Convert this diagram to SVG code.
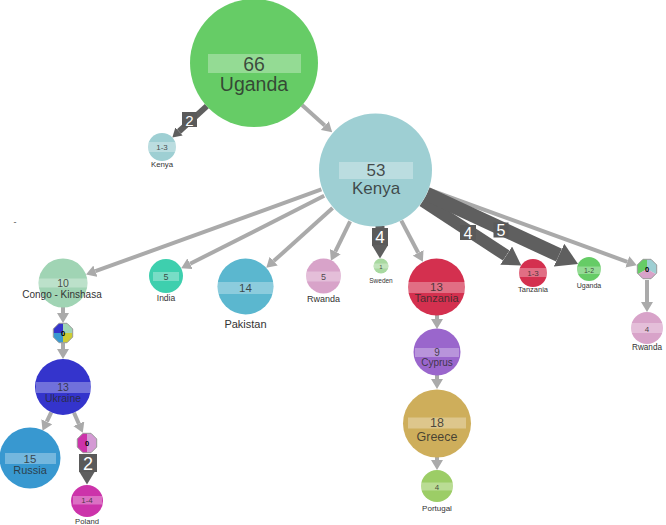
<svg xmlns="http://www.w3.org/2000/svg" width="666" height="525" viewBox="0 0 666 525">
<defs>
<style>
text{font-family:"Liberation Sans",Arial,sans-serif;text-anchor:middle}
.band{fill:#fff;fill-opacity:.3}
.in{fill:#2a2a2a;fill-opacity:.82}
.out{fill:#333}
.e{fill:none;stroke:#aaa;stroke-width:4;marker-end:url(#ag)}
.d{fill:none;stroke:#5f5f5f;marker-end:url(#ad)}
.lb{fill:#5a5a5a}
.lt{fill:#fff}
.oct{fill:none;stroke:#999;stroke-width:1}
.z{font-size:7.5px;font-weight:bold;fill:#000}
</style>
<marker id="ag" viewBox="0 0 10 10" refX="0" refY="5" markerWidth="2.5" markerHeight="3" orient="auto" markerUnits="strokeWidth" preserveAspectRatio="none"><path d="M0,0L10,5L0,10z" fill="#aaa"/></marker>
<marker id="ad" viewBox="0 0 10 10" refX="0" refY="5" markerWidth="1.5" markerHeight="1.8" orient="auto" markerUnits="strokeWidth" preserveAspectRatio="none"><path d="M0,0L10,5L0,10z" fill="#5f5f5f"/></marker>
<clipPath id="octc"><polygon points="9.7,4.02 4.02,9.7 -4.02,9.7 -9.7,4.02 -9.7,-4.02 -4.02,-9.7 4.02,-9.7 9.7,-4.02"/></clipPath>
<polygon id="octp" points="9.7,4.02 4.02,9.7 -4.02,9.7 -9.7,4.02 -9.7,-4.02 -4.02,-9.7 4.02,-9.7 9.7,-4.02"/>
</defs>
<rect width="666" height="525" fill="#fff"/>
<text x="15" y="225" style="font-size:9px;fill:#555">-</text>

<g id="connectors">
<line class="e" x1="302" y1="105" x2="324.8" y2="125.6"/>
<line class="e" x1="321.4" y1="189.4" x2="95.4" y2="271.2"/>
<line class="e" x1="324.2" y1="195.8" x2="190.1" y2="263.8"/>
<line class="e" x1="332.6" y1="208.1" x2="273.7" y2="261.1"/>
<line class="e" x1="350.1" y1="221.3" x2="335.3" y2="251.7"/>
<line class="e" x1="401.3" y1="220.6" x2="418.2" y2="252.8"/>
<line class="e" x1="428.6" y1="189.5" x2="627.3" y2="261.8"/>
<line class="e" x1="647" y1="280" x2="647" y2="302"/>
<line class="e" x1="63" y1="307" x2="63" y2="313"/>
<line class="e" x1="63" y1="343" x2="63" y2="349"/>
<line class="e" x1="51.2" y1="412.4" x2="46.8" y2="421.7"/>
<line class="e" x1="74" y1="412.7" x2="78.8" y2="423.7"/>
<line class="e" x1="437" y1="315" x2="437" y2="319"/>
<line class="e" x1="437" y1="375" x2="437" y2="379"/>
<line class="e" x1="437" y1="457" x2="437" y2="460"/>
<line class="d" style="stroke-width:6" x1="206.8" y1="106.1" x2="179" y2="131.5"/>
<line class="d" style="stroke-width:9" x1="380" y1="226" x2="380" y2="245"/>
<line class="d" style="stroke-width:12" x1="422.8" y1="201.1" x2="506.2" y2="255.6"/>
<line class="d" style="stroke-width:14" x1="426.8" y1="193.9" x2="559" y2="255.2"/>
<line class="d" style="stroke-width:9" x1="87" y1="454" x2="87" y2="471"/>
<rect class="lb" x="182" y="112" width="15" height="15"/><text class="lt" x="189.5" y="125.5" style="font-size:15px">2</text>
<rect class="lb" x="372" y="228" width="16" height="17"/><text class="lt" x="380" y="243" style="font-size:17px">4</text>
<rect class="lb" x="460" y="225" width="16" height="15"/><text class="lt" x="468" y="239" style="font-size:16px">4</text>
<rect class="lb" x="493.5" y="222.5" width="15" height="15"/><text class="lt" x="501" y="236" style="font-size:16px">5</text>
<rect class="lb" x="79" y="454" width="18" height="18"/><text class="lt" x="88" y="469.5" style="font-size:18px">2</text>
</g>

<g id="n-uganda"><circle cx="254" cy="63" r="64" fill="#66cc66"/><rect class="band" x="208" y="54" width="93" height="19"/><text class="in" x="254" y="70.5" style="font-size:19.5px">66</text><text class="in" x="254" y="91" style="font-size:19.5px">Uganda</text></g>
<g id="n-kenya"><circle cx="375.5" cy="170" r="56.5" fill="#9ecfd3"/><rect class="band" x="339" y="162" width="74" height="17"/><text class="in" x="376" y="175.5" style="font-size:17px">53</text><text class="in" x="376" y="194" style="font-size:17px">Kenya</text></g>
<g id="n-kenya-small"><circle cx="162" cy="147" r="14" fill="#9ecfd3"/><rect class="band" x="148" y="142" width="28" height="10"/><text class="in" x="162" y="150" style="font-size:8px">1-3</text><text class="out" x="162" y="167" style="font-size:7.8px">Kenya</text></g>
<g id="n-congo"><circle cx="63" cy="283" r="24.5" fill="#a0d4b4"/><rect class="band" x="38.5" y="278.5" width="49" height="9"/><text class="in" x="63" y="287" style="font-size:10.5px">10</text><text class="out" x="62" y="298" style="font-size:10px">Congo - Kinshasa</text></g>
<g id="n-india"><circle cx="166" cy="276" r="17" fill="#3ecfae"/><rect class="band" x="153" y="272" width="26" height="9"/><text class="in" x="166" y="280" style="font-size:9px">5</text><text class="out" x="166" y="301" style="font-size:8.5px">India</text></g>
<g id="n-pakistan"><circle cx="245.5" cy="286.5" r="28" fill="#5bb7cf"/><rect class="band" x="217.5" y="282" width="56" height="12"/><text class="in" x="245.5" y="292" style="font-size:11.5px">14</text><text class="out" x="245.5" y="328" style="font-size:11px">Pakistan</text></g>
<g id="n-rwanda"><circle cx="323.5" cy="276" r="17.5" fill="#d8a3c9"/><rect class="band" x="306" y="271.5" width="35" height="10"/><text class="in" x="323.5" y="280" style="font-size:9px">5</text><text class="out" x="323.5" y="302" style="font-size:9px">Rwanda</text></g>
<g id="n-sweden"><circle cx="381" cy="266" r="7.5" fill="#a8d9a0"/><rect class="band" x="374" y="263.5" width="14" height="5"/><text class="in" x="381" y="268.5" style="font-size:6px">1</text><text class="out" x="381" y="282.5" style="font-size:6.5px">Sweden</text></g>
<g id="n-tanzania"><circle cx="436.5" cy="287" r="28.5" fill="#d4304f"/><rect class="band" x="408" y="282" width="57" height="11"/><text class="in" x="436.5" y="290.5" style="font-size:11.5px">13</text><text class="in" x="436.5" y="302" style="font-size:11px">Tanzania</text></g>
<g id="n-tanzania-small"><circle cx="533" cy="273" r="14" fill="#d4304f"/><rect class="band" x="519" y="268" width="28" height="9"/><text class="in" x="533" y="276" style="font-size:8px">1-3</text><text class="out" x="533" y="292" style="font-size:7.5px">Tanzania</text></g>
<g id="n-uganda-small"><circle cx="589" cy="269" r="12" fill="#66cc66"/><rect class="band" x="577" y="266.5" width="24" height="7.5"/><text class="in" x="589" y="273" style="font-size:7px">1-2</text><text class="out" x="589" y="288" style="font-size:7px">Uganda</text></g>
<g id="n-group-east" transform="translate(647,269)"><g clip-path="url(#octc)"><polygon points="0,0 0,-20 -20,-20 -20,11.55" fill="#66cc66"/><polygon points="0,0 0,-20 20,-20 20,11.55" fill="#9ecfd3"/><polygon points="0,0 20,11.55 20,20 -20,20 -20,11.55" fill="#d8a3c9"/></g><use href="#octp" class="oct"/><text class="z" x="0" y="2.5">0</text></g>
<g id="n-rwanda-4"><circle cx="647" cy="328" r="16" fill="#d8a3c9"/><rect class="band" x="631" y="323" width="32" height="10"/><text class="in" x="647" y="331.5" style="font-size:8px">4</text><text class="out" x="647" y="350" style="font-size:8.2px">Rwanda</text></g>
<g id="n-group-congo" transform="translate(63,333)"><g clip-path="url(#octc)"><rect x="-12" y="-12" width="12" height="12" fill="#3434cc"/><rect x="0" y="-12" width="12" height="12" fill="#a0d4b4"/><rect x="0" y="0" width="12" height="12" fill="#cccc33"/><rect x="-12" y="0" width="12" height="12" fill="#3898d0"/></g><use href="#octp" class="oct"/><text class="z" x="0" y="2.5">0</text></g>
<g id="n-ukraine"><circle cx="63" cy="387" r="28" fill="#3434cc"/><rect class="band" x="36" y="382" width="55" height="11"/><text class="in" x="63" y="391" style="font-size:10.5px">13</text><text class="in" x="63" y="402" style="font-size:10.5px">Ukraine</text></g>
<g id="n-russia"><circle cx="30" cy="458" r="30.5" fill="#3898d0"/><rect class="band" x="5" y="453" width="51" height="11"/><text class="in" x="30" y="462.5" style="font-size:11.5px">15</text><text class="in" x="30" y="473.5" style="font-size:11px">Russia</text></g>
<g id="n-group-ukraine" transform="translate(87,443)"><g clip-path="url(#octc)"><rect x="-12" y="-12" width="12" height="24" fill="#cc33aa"/><rect x="0" y="-12" width="12" height="24" fill="#d49ad4"/></g><use href="#octp" class="oct"/><text class="z" x="0" y="2.5">0</text></g>
<g id="n-poland"><circle cx="87" cy="501" r="16" fill="#cc33aa"/><rect class="band" x="73" y="496" width="29" height="8.5"/><text class="in" x="87" y="503" style="font-size:8px">1-4</text><text class="out" x="87" y="524" style="font-size:7.7px">Poland</text></g>
<g id="n-cyprus"><circle cx="437" cy="352" r="23.5" fill="#9a66cc"/><rect class="band" x="415" y="348" width="44" height="9"/><text class="in" x="437" y="355.5" style="font-size:10px">9</text><text class="in" x="437" y="365.5" style="font-size:10px">Cyprus</text></g>
<g id="n-greece"><circle cx="437" cy="423.5" r="34" fill="#ceae5b"/><rect class="band" x="408" y="417.5" width="58" height="11"/><text class="in" x="437" y="427" style="font-size:12.5px">18</text><text class="in" x="437" y="440.5" style="font-size:12.5px">Greece</text></g>
<g id="n-portugal"><circle cx="437" cy="486" r="16" fill="#9ccd66"/><rect class="band" x="421" y="482.5" width="32" height="8"/><text class="in" x="437" y="489.5" style="font-size:8px">4</text><text class="out" x="437" y="511" style="font-size:8px">Portugal</text></g>
</svg>
